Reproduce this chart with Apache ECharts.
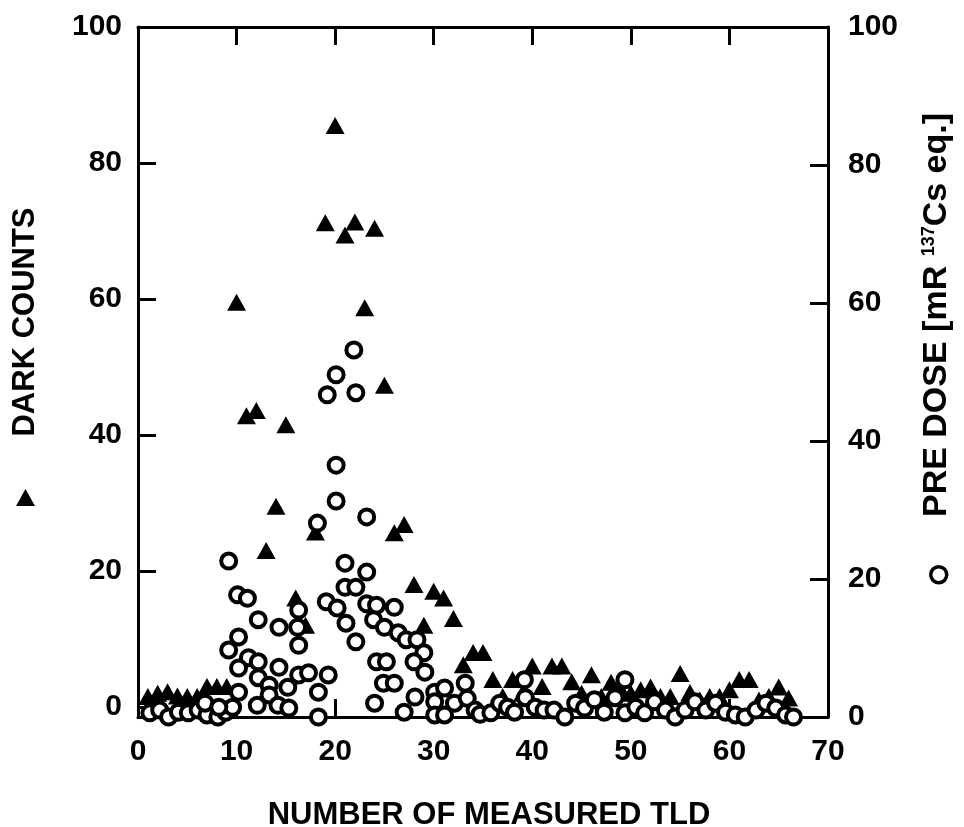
<!DOCTYPE html>
<html>
<head>
<meta charset="utf-8">
<script src="https://cdn.jsdelivr.net/npm/echarts@6/dist/echarts.min.js"></script>
<style>
html, body { margin: 0; background: #fff; }
#chart { width: 964px; height: 827px; }
</style>
</head>
<body>
<div id="chart"></div>
<script>
// dark counts (triangles, left axis), one per TLD
const darkX = [1,2,3,4,5,6,7,8,9,10,11,12,13,14,15,16,17,18,19,20,21,22,23,24,25,26,27,28,29,30,31,32,33,
	34,35,36,37,38,39,40,41,42,43,44,45,46,47,48,49,50,51,52,53,54,55,56,57,58,59,60,61,62,63,64,65,66];
const darkCounts = [1.5,2,2.2,1.6,1.5,1.5,3,3,3,59.5,42.8,43.6,23,29.5,41.5,16,12,25.7,71.2,85.5,69.4,71.3,58.7,70.4,47.3,25.6,26.8,18,12,17,16,13,6.2,
	8,8,4,1.5,4,2,6,3,6,6,3.7,2,4.7,1.5,3.6,2.5,2,2.5,2.9,1.5,1.5,4.9,2.1,1,1.5,1.5,2.5,4,4,1,1.5,2.9,1.3];

// pre dose (circles, right axis)
const doseX = [1.2,2.2,3.1,4.1,5.1,6.1,7,8.1,8.9,9.6,6.8,8.2,
	9.2,10.1,11.1,12.2,14.3,16.3,16.2,16.3,10.2,9.2,11.2,12.2,10.2,14.3,12.2,13.3,13.3,15.2,10.2,12.1,14.2,15.3,
	16.3,17.3,19.3,18.3,18.3,19.1,20.2,21.1,22.1,18.2,19.2,20.1,21.9,22.1,20.1,20.1,23.2,21.0,23.2,21.0,22.1,
	23.2,24.2,26.0,23.9,25.0,26.4,27.2,28.3,29.0,28.0,29.1,24.2,25.2,24.9,26.0,24.0,28.1,27.0,
	30.1,30.1,30.1,31.1,31.1,32.1,33.2,33.4,34.2,34.7,35.8,36.7,37.5,38.2,39.2,39.3,40.3,41.2,42.2,43.3,44.4,
	45.3,46.3,47.3,48.4,49.4,49.4,50.5,51.4,52.4,53.5,54.5,55.5,56.5,57.6,58.6,59.6,60.6,61.6,62.7,63.7,64.7,65.7,66.5];
const preDose = [0.6,1,0,0.7,0.6,1,0.3,0,0.7,1.4,2,1.4,
	22.6,17.7,17.2,14.1,13.0,15.5,13.0,10.4,11.6,9.7,8.6,8.0,7.1,7.2,5.7,4.6,3.2,4.3,3.6,1.7,1.7,1.3,
	6.1,6.4,6.1,3.6,0,16.7,15.8,13.6,10.9,28.1,46.7,49.6,53.2,47.0,36.5,31.3,29.0,22.3,21.0,18.8,18.8,
	16.4,16.2,15.9,14.1,13.0,12.2,11.2,11.2,9.3,8.0,6.5,8.0,8.0,4.9,4.9,2.0,2.9,0.7,
	3.6,2.2,0.3,4.2,0.3,2.0,4.9,2.7,1.0,0.4,0.6,2.0,1.4,0.7,5.4,2.8,1.4,1.0,1.0,0,2.0,
	1.3,2.5,0.7,2.8,5.4,0.6,1.4,0.6,2.2,1.0,0,1.0,2.2,1.0,2.0,0.7,0.3,0,1.0,2.0,1.3,0.3,0];

const xTicks = [0, 10, 20, 30, 40, 50, 60, 70];
const yTicks = [0, 20, 40, 60, 80, 100];

const FONT = '"Liberation Sans", Arial, sans-serif';
const ink = '#000';

const zip = (xs, ys) => xs.map((x, i) => [x, ys[i]]);

const line = {show: true, onZero: false, lineStyle: {color: ink, width: 3}};
const tick = () => ({show: true, inside: true, length: 18, lineStyle: {color: ink, width: 3}});
const label = {color: ink, fontFamily: FONT, fontSize: 30, fontWeight: 'bold'};

const chart = echarts.init(document.getElementById('chart'), null, {renderer: 'canvas'});

chart.setOption({
	animation: false,
	backgroundColor: '#fff',
	grid: {left: 138, right: 136, top: 27, bottom: 110, containLabel: false},
	xAxis: [
		{
			type: 'value', position: 'bottom', min: xTicks[0], max: xTicks[xTicks.length - 1], interval: 10,
			axisLine: line, axisTick: tick(), splitLine: {show: false},
			axisLabel: Object.assign({margin: 20}, label),
		},
		{
			// top frame: ticks only
			type: 'value', position: 'top', min: xTicks[0], max: xTicks[xTicks.length - 1], interval: 10,
			axisLine: line, axisTick: tick(), splitLine: {show: false},
			axisLabel: {show: false},
		}
	],
	yAxis: [
		{
			type: 'value', position: 'left', min: -1.5, max: 100,
			axisLine: line, splitLine: {show: false},
			axisTick: Object.assign({customValues: yTicks}, tick()),
			axisLabel: Object.assign({customValues: yTicks, margin: 16}, label),
		},
		{
			type: 'value', position: 'right', min: 0, max: 100, interval: 20,
			axisLine: line, axisTick: tick(), splitLine: {show: false},
			axisLabel: Object.assign({margin: 20}, label),
		}
	],
	legend: [
		{
			data: ['Dark counts'], left: 16, top: 489, padding: 0, selectedMode: false,
			itemWidth: 19, itemHeight: 17, formatter: () => '',
		},
		{
			data: [{name: 'Pre dose', itemStyle: {color: '#fff', borderColor: ink, borderWidth: 3.5}}],
			left: 929, top: 565, padding: 0, selectedMode: false,
			itemWidth: 16, itemHeight: 16, formatter: () => '',
		}
	],
	graphic: [
		{
			type: 'text', x: 25, y: 322, rotation: Math.PI / 2,
			style: {text: 'DARK COUNTS', fill: ink, font: 'bold 31px ' + FONT,
				textAlign: 'center', textVerticalAlign: 'middle'}
		},
		{
			type: 'text', x: 937, y: 315, rotation: Math.PI / 2,
			style: {
				text: 'PRE DOSE [mR {sup|137}Cs eq.]', fill: ink, font: 'bold 34px ' + FONT,
				textAlign: 'center', textVerticalAlign: 'middle',
				rich: {sup: {fontSize: 18, fontWeight: 'bold', fontFamily: FONT, verticalAlign: 'top', fill: ink}}
			}
		},
		{
			type: 'text', x: 489, y: 815,
			style: {text: 'NUMBER OF MEASURED TLD', fill: ink, font: 'bold 31px ' + FONT,
				textAlign: 'center', textVerticalAlign: 'middle'}
		}
	],
	series: [
		{
			name: 'Dark counts', type: 'scatter', xAxisIndex: 0, yAxisIndex: 0,
			symbol: 'triangle', symbolSize: [19, 17], z: 2,
			itemStyle: {color: ink, opacity: 1},
			data: zip(darkX, darkCounts),
		},
		{
			name: 'Pre dose', type: 'scatter', xAxisIndex: 0, yAxisIndex: 1,
			symbol: 'circle', symbolSize: 15, z: 3,
			itemStyle: {color: '#fff', borderColor: ink, borderWidth: 4, opacity: 1},
			data: zip(doseX, preDose),
		}
	]
});
</script>
</body>
</html>
